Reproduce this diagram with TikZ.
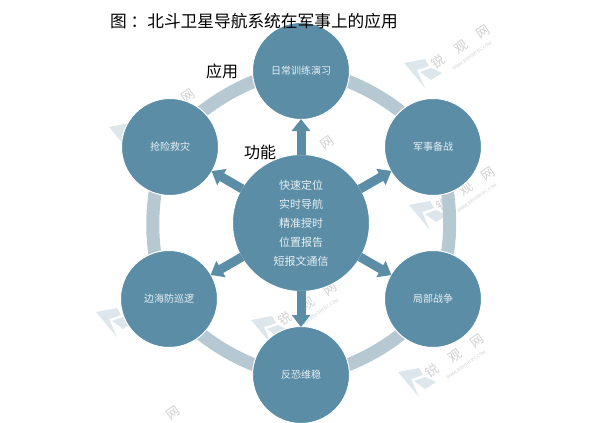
\documentclass[tikz,border=0pt]{standalone}
\usepackage{fontspec}
\setmainfont{Noto Sans CJK SC}
\usetikzlibrary{arrows.meta,backgrounds}
\definecolor{discblue}{HTML}{5B8EA6}
\definecolor{ringgrey}{HTML}{B6C8D2}
\definecolor{labelpale}{HTML}{E6EFF3}
\definecolor{markpale}{HTML}{DCE6EB}
\definecolor{markgrey}{HTML}{D0D0D0}
\tikzset{
  outerdisc/.style={shape=circle,draw=white,line width=1pt,fill=discblue,minimum size=97pt,inner sep=0pt,text=labelpale,font=\fontsize{10}{12}\selectfont},
  hubdisc/.style={shape=circle,draw=white,line width=1pt,fill=discblue,minimum size=137pt,inner sep=0pt,text=labelpale,align=center,font=\fontsize{11}{19}\selectfont},
  ringarc/.style={draw=ringgrey,line width=13pt,bend left=30,looseness=0.75},
  pointer/.style={draw=discblue,line width=9pt,-{Triangle[width=18pt,length=12pt]},shorten <=-1pt,shorten >=-1pt},
  caption/.style={inner sep=0pt,text=black,font=\fontsize{16}{18}\selectfont},
  markchar/.style={inner sep=0pt,rotate=35,text=markgrey,font=\fontsize{13}{14}\selectfont},
  markurl/.style={inner sep=0pt,rotate=35,text=markgrey,font=\fontsize{4.5}{5}\selectfont}
}
\begin{document}
\begin{tikzpicture}[x=1pt,y=-1pt]
\useasboundingbox (0,0) rectangle (600,423);
\node[hubdisc] (hub) at (301,223) {快速定位\\实时导航\\精准授时\\位置报告\\短报文通信};
\node[outerdisc] (drill) at (301,71) {日常训练演习};
\node[outerdisc] (prep) at (433,147) {军事备战};
\node[outerdisc] (war) at (433,299) {局部战争};
\node[outerdisc] (terror) at (301,375) {反恐维稳};
\node[outerdisc] (patrol) at (169,299) {边海防巡逻};
\node[outerdisc] (rescue) at (170,147) {抢险救灾};
\begin{scope}[on background layer]
\foreach \wx/\wy in {423/73,417/382,428/215,270/330,128/137,115/322}{
  \begin{scope}[shift={(\wx,\wy)}]
  \fill[markpale] (-19,-10) -- (2,-14) -- (6,-7) -- (-6,-3) -- (2,15) -- cycle;
  \fill[markpale] (-3,-1) -- (8,-5) -- (19,0) -- (8,7) -- cycle;
  \end{scope}
}
\foreach \wx/\wy [count=\wi] in {423/73,417/382,428/215,270/330}{
  \begin{scope}[shift={(\wx,\wy)}]
  \node[markchar] (wma\wi) at (15,-11) {锐};
  \node[markchar] (wmb\wi) at (38,-26) {观};
  \node[markchar] (wmc\wi) at (60,-41) {网};
  \node[markurl] (wmd\wi) at (49,-17) {WWW.REPORTRC.COM};
  \end{scope}
}
\node[markchar] (wmup) at (188,96) {网};
\node[markchar] (wmlow) at (173,413) {网};
\node[markchar] (wmmid) at (327,143) {网};
\path[ringarc] (drill.center) to (prep.center);
\path[ringarc] (prep.center) to (war.center);
\path[ringarc] (war.center) to (terror.center);
\path[ringarc] (terror.center) to (patrol.center);
\path[ringarc] (patrol.center) to (rescue.center);
\path[ringarc] (rescue.center) to (drill.center);
\end{scope}
\draw[pointer] (hub) -- (drill);
\draw[pointer] (hub) -- (prep);
\draw[pointer] (hub) -- (war);
\draw[pointer] (hub) -- (terror);
\draw[pointer] (hub) -- (patrol);
\draw[pointer] (hub) -- (rescue);
\node[caption,anchor=west,font=\fontsize{16.7}{18}\selectfont] (title) at (110,21) {图 ：北斗卫星导航系统在军事上的应用};
\node[caption] (apply) at (222,71) {应用};
\node[caption] (func) at (260,152) {功能};
\end{tikzpicture}
\end{document}
